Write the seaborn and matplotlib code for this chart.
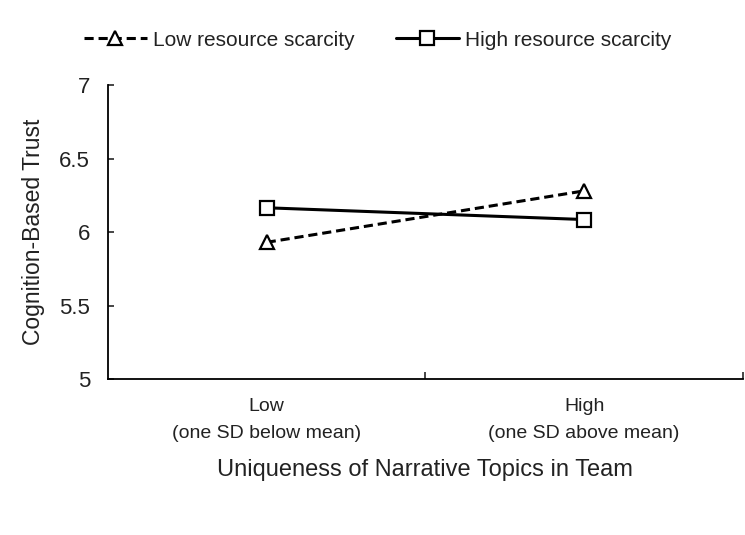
import matplotlib
matplotlib.use("Agg")
import matplotlib.pyplot as plt
import seaborn as sns
import pandas as pd
from matplotlib.ticker import FixedLocator

# Data
uniqueness = ["Low\n(one SD below mean)", "High\n(one SD above mean)"]
scarcity_levels = ["Low resource scarcity", "High resource scarcity"]
low_scarcity = [5.93, 6.28]
high_scarcity = [6.165, 6.085]
y_ticks = [5, 5.5, 6, 6.5, 7]
y_ticklabels = ["5", "5.5", "6", "6.5", "7"]

rows = []
for i, lab in enumerate(uniqueness):
    rows.append({"x": i, "Scarcity": scarcity_levels[0], "Trust": low_scarcity[i]})
    rows.append({"x": i, "Scarcity": scarcity_levels[1], "Trust": high_scarcity[i]})
df = pd.DataFrame(rows)

sns.set_style("ticks")
plt.rcParams["font.family"] = ["Liberation Sans", "DejaVu Sans"]
TXT = "#222222"

fig = plt.figure(figsize=(7.45, 5.35), dpi=100)
ax = fig.add_axes([0.145, 0.2916, 0.852, 0.5494])

sns.lineplot(data=df, x="x", y="Trust", hue="Scarcity", style="Scarcity",
             hue_order=scarcity_levels, style_order=scarcity_levels,
             palette=["black", "black"],
             dashes={scarcity_levels[0]: (3, 1.6), scarcity_levels[1]: ""},
             markers={scarcity_levels[0]: "^", scarcity_levels[1]: "s"},
             linewidth=2.2, markersize=9.5, legend=False, ax=ax)

for ln in ax.lines:
    ln.set_markerfacecolor("white")
    ln.set_markeredgecolor("black")
    ln.set_markeredgewidth(1.6)
    ln.set_color("black")

ax.set_xlim(-0.5, 1.5)
ax.set_ylim(5, 7)
ax.set_yticks(y_ticks)
ax.set_yticklabels(y_ticklabels, fontsize=16, color=TXT)
ax.set_xticks([0, 1])
ax.set_xticklabels(uniqueness, fontsize=14, linespacing=1.8, color=TXT)
ax.tick_params(axis="x", which="major", length=0, pad=13.5)
ax.xaxis.set_minor_locator(FixedLocator([0.5, 1.5]))
ax.tick_params(axis="x", which="minor", direction="in", length=5, width=1.2)
ax.tick_params(axis="y", direction="in", length=4, width=1.2, pad=13)

for s in ["top", "right"]:
    ax.spines[s].set_visible(False)
for s in ["left", "bottom"]:
    ax.spines[s].set_linewidth(1.3)
    ax.spines[s].set_color("black")

ax.set_xlabel("Uniqueness of Narrative Topics in Team", fontsize=17, labelpad=12, color=TXT)
ax.set_ylabel("Cognition-Based Trust", fontsize=16.5, labelpad=10, color=TXT)

handles = ax.lines[:2]
fig.legend(handles, scarcity_levels, loc="center", bbox_to_anchor=(0.507, 0.925),
           ncol=2, frameon=False, fontsize=15, handlelength=3.0,
           columnspacing=2.0, handletextpad=0.3, labelcolor=TXT)

fig.savefig("out.png", dpi=100, facecolor="white")
